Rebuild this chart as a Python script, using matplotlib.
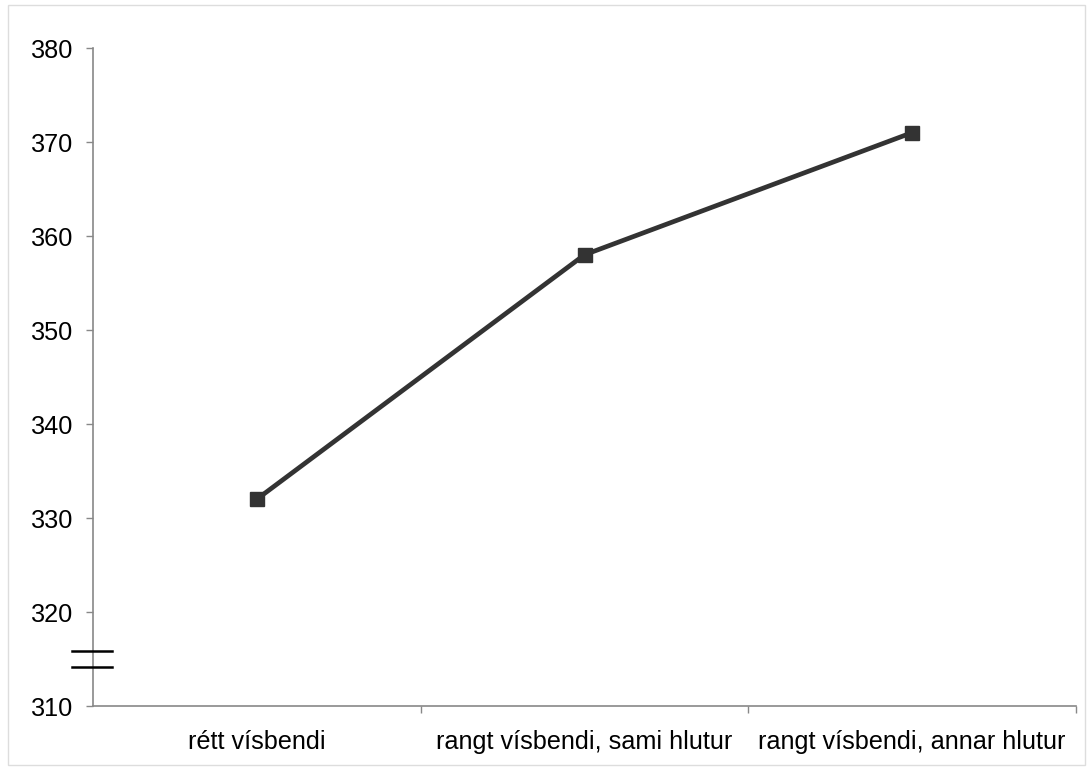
import numpy as np
import matplotlib.pyplot as plt
from matplotlib.patches import Rectangle

categories = ['rétt vísbendi', 'rangt vísbendi, sami hlutur', 'rangt vísbendi, annar hlutur']
values = [332, 358, 371]
y_ticks = [310, 320, 330, 340, 350, 360, 370, 380]

plt.rcParams['font.family'] = ['Liberation Sans', 'DejaVu Sans']

fig = plt.figure(figsize=(10.9, 7.73), dpi=100)
ax = fig.add_axes([93 / 1090, 1 - 706 / 773, (1076 - 93) / 1090, (706 - 48) / 773])

x = np.arange(len(categories))
ax.plot(x, values, color='#333333', linewidth=3.4, marker='s', markersize=10,
        markerfacecolor='#333333', markeredgecolor='#333333', zorder=3)

ax.set_xlim(-0.5, len(categories) - 0.5)
ax.set_ylim(310, 380)
ax.set_yticks(y_ticks)
ax.tick_params(axis='y', direction='out', length=5, width=1, color='#888888',
               labelsize=18.2, pad=9.4)

# category labels centred, tick marks between categories
ax.set_xticks(x)
ax.set_xticklabels(categories)
ax.tick_params(axis='x', which='major', length=0, labelsize=18.2, pad=17.5)
ax.set_xticks(np.arange(len(categories)) + 0.5, minor=True)
ax.tick_params(axis='x', which='minor', direction='out', length=5, width=1, color='#888888')

for s in ['top', 'right']:
    ax.spines[s].set_visible(False)
for s in ['left', 'bottom']:
    ax.spines[s].set_color('#888888')
    ax.spines[s].set_linewidth(1.2)

# axis break marks
for yb in [315.85, 314.15]:
    ax.plot([-0.565, -0.443], [yb, yb], color='black', linewidth=1.8,
            clip_on=False, zorder=4)

# light frame around the figure
fig.patches.append(Rectangle((8 / 1090, 8 / 773), 1 - 13 / 1090, 1 - 13 / 773,
                             transform=fig.transFigure, fill=False,
                             edgecolor='#dddddd', linewidth=1))

fig.savefig('out.png', dpi=100)
